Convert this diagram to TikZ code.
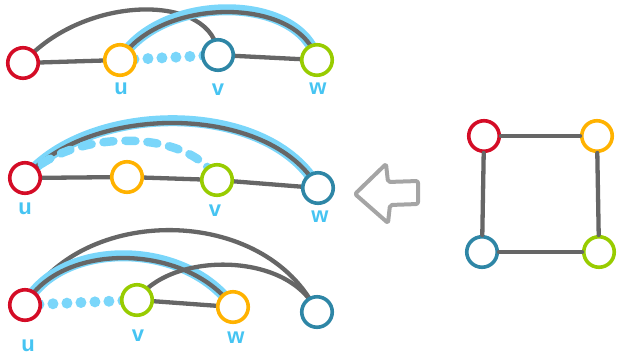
\documentclass[tikz,border=0pt]{standalone}
\usepackage{fontspec}
\setmainfont{Liberation Sans}
\pgfdeclarelayer{bg}
\pgfsetlayers{bg,main}
\definecolor{cred}{RGB}{212,12,38}
\definecolor{corange}{RGB}{255,178,0}
\definecolor{cteal}{RGB}{46,134,166}
\definecolor{cgreen}{RGB}{152,204,0}
\definecolor{cgray}{RGB}{102,102,102}
\definecolor{clblue}{RGB}{122,214,250}
\definecolor{clabel}{RGB}{70,196,242}
\definecolor{carrow}{RGB}{165,165,165}
\tikzset{
  vert/.style={circle, minimum size=30.5pt, inner sep=0pt, line width=3.6pt, fill=white},
  edge/.style={cgray, line width=4.3pt, line cap=round},
  hilite/.style={clblue, line width=11pt, line cap=round},
  dotted blue/.style={clblue, line width=11pt, line cap=round, dash pattern=on 0pt off 14pt},
  dashed blue/.style={clblue, line width=8.5pt, line cap=round, dash pattern=on 10pt off 12pt},
  lab/.style={text=clabel, font=\bfseries\fontsize{22}{22}\selectfont, inner sep=0pt}
}
\begin{document}
\begin{tikzpicture}[x=1pt,y=-1pt]
\useasboundingbox (0,0) rectangle (618,357);
% ---------- row 1 ----------
\node[vert, draw=cred]    (r1) at (23,63) {};
\node[vert, draw=corange] (u1) at (120,60) {};
\node[vert, draw=cteal]   (v1) at (218,55) {};
\node[vert, draw=cgreen]  (w1) at (317,60) {};
\node[lab] (lu1) at (121,89) {u};
\node[lab] (lv1) at (218,90) {v};
\node[lab] (lw1) at (318,89) {w};
% ---------- row 2 ----------
\node[vert, draw=cred]    (r2) at (25,178) {};
\node[vert, draw=corange] (o2) at (127,177) {};
\node[vert, draw=cgreen]  (g2) at (217,180) {};
\node[vert, draw=cteal]   (t2) at (318,188) {};
\node[lab] (lu2) at (25,209) {u};
\node[lab] (lv2) at (215,211) {v};
\node[lab] (lw2) at (320,217) {w};
% ---------- row 3 ----------
\node[vert, draw=cred]    (r3) at (25,305) {};
\node[vert, draw=cgreen]  (g3) at (137,300) {};
\node[vert, draw=corange] (o3) at (233,307) {};
\node[vert, draw=cteal]   (t3) at (317,312) {};
\node[lab] (lu3) at (28,346) {u};
\node[lab] (lv3) at (138,336) {v};
\node[lab] (lw3) at (236,338) {w};
% ---------- square ----------
\node[vert, draw=cred]    (sr) at (484,136) {};
\node[vert, draw=corange] (so) at (597,136) {};
\node[vert, draw=cteal]   (st) at (482,252) {};
\node[vert, draw=cgreen]  (sg) at (599,252) {};
\draw[edge] (sr) -- (so);
\draw[edge] (sr) -- (st);
\draw[edge] (so) -- (sg);
\draw[edge] (st) -- (sg);
% ---------- arrow ----------
\draw[carrow, line width=4pt, line join=round, rounded corners=2pt]
  (355,194) -- (386,164) -- (388,182) -- (418,181) -- (418,204) -- (390,205) -- (388,223) -- cycle;
\begin{pgfonlayer}{bg}
  % row 1
  \draw[edge] (r1.center) -- (u1.center);
  \draw[edge] (v1.center) -- (w1.center);
  \draw[edge] (r1.center) .. controls (85,-7) and (215,-7) .. (v1.center);
  \draw[hilite, yshift=3pt] (u1.center) .. controls (160,-4) and (300,-4) .. (w1.center);
  \draw[edge] (u1.center) .. controls (160,-4) and (300,-4) .. (w1.center);
  \draw[dotted blue] (u1.center) -- (v1.center);
  % row 2
  \draw[edge] (r2.center) -- (o2.center) -- (g2.center) -- (t2.center);
  \draw[hilite, yshift=3pt] (r2.center) .. controls (90,103) and (270,103) .. (t2.center);
  \draw[edge] (r2.center) .. controls (90,103) and (270,103) .. (t2.center);
  \draw[dashed blue] (r2.center) .. controls (70,128) and (190,128) .. (g2.center);
  % row 3
  \draw[edge] (r3.center) .. controls (80,204) and (265,204) .. (t3.center);
  \draw[hilite, yshift=3pt] (r3.center) .. controls (60,242) and (185,242) .. (o3.center);
  \draw[edge] (r3.center) .. controls (60,242) and (185,242) .. (o3.center);
  \draw[edge] (g3.center) .. controls (170,251) and (290,251) .. (t3.center);
  \draw[edge] (g3.center) -- (o3.center);
  \draw[dotted blue] (r3.center) -- (g3.center);
\end{pgfonlayer}
\end{tikzpicture}
\end{document}
